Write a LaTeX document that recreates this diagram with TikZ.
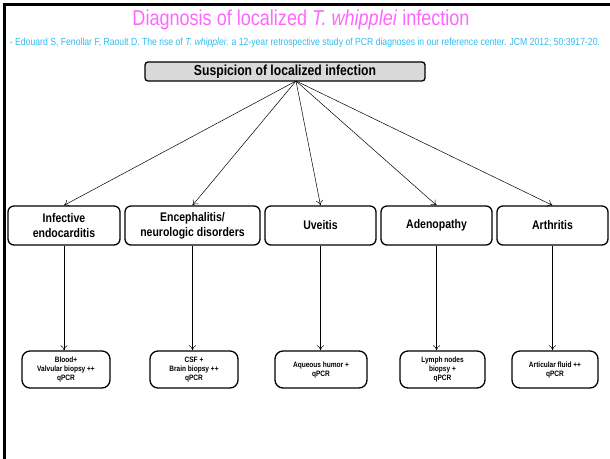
\documentclass[tikz,border=0pt]{standalone}
\usepackage{fontspec}
\setmainfont{Liberation Sans}[FakeStretch=0.84]
\usetikzlibrary{arrows.meta}
\definecolor{titlemag}{HTML}{FF66FF}
\definecolor{refblue}{HTML}{33BBEE}
\definecolor{boxgray}{HTML}{D9D9D9}
\begin{document}
\begin{tikzpicture}[x=1bp,y=-1bp,
  rowbox/.style={draw=black,line width=1.3bp,rounded corners=6bp,minimum height=39bp,inner sep=1bp,align=center,font=\fontsize{12.5bp}{15bp}\selectfont\bfseries},
  endbox/.style={draw=black,line width=1.3bp,rounded corners=8bp,minimum height=37bp,inner sep=1bp,align=center,font=\fontsize{7.8bp}{9bp}\selectfont\bfseries},
  conn/.style={line width=0.5bp,-{To[length=5bp,width=7bp]}}]
\useasboundingbox (0,0) rectangle (610,459);
\draw[line width=3bp] (4.5,459) -- (4.5,4.5) -- (610,4.5);
\node[text=titlemag,font=\fontsize{21.5bp}{23bp}\selectfont] (title) at (301,20) {Diagnosis of localized \textit{T. whipplei} infection};
\node[text=refblue,inner sep=0pt] (ref) at (305,43) {\resizebox{590bp}{!}{\fontsize{8bp}{9bp}\selectfont - Edouard S, Fenollar F, Raoult D. The rise of \textit{T. whipplei}: a 12-year retrospective study of PCR diagnoses in our reference center. JCM 2012; 50:3917-20.}};
\node[draw=black,fill=boxgray,line width=1.3bp,rounded corners=3bp,minimum width=280bp,minimum height=19bp,inner sep=0pt,font=\fontsize{14.5bp}{16bp}\selectfont\bfseries] (top) at (285,71.5) {Suspicion of localized infection};
\coordinate (c) at (296,81);
\node[rowbox,minimum width=112bp] (r1) at (64,225.5) {Infective\\endocarditis};
\node[rowbox,minimum width=135bp] (r2) at (192.5,225.5) {Encephalitis/\\neurologic disorders};
\node[rowbox,minimum width=111bp] (r3) at (320.5,225.5) {Uveitis};
\node[rowbox,minimum width=111bp] (r4) at (436.5,225.5) {Adenopathy};
\node[rowbox,minimum width=111bp] (r5) at (552.5,225.5) {Arthritis};
\node[endbox,minimum width=88bp] (b1) at (66,369.5) {Blood+\\Valvular biopsy ++\\qPCR};
\node[endbox,minimum width=88bp] (b2) at (194,369.5) {CSF +\\Brain biopsy ++\\qPCR};
\node[endbox,minimum width=92bp] (b3) at (321,369.5) {Aqueous humor +\\qPCR};
\node[endbox,minimum width=85bp] (b4) at (442.5,369.5) {Lymph nodes\\biopsy +\\qPCR};
\node[endbox,minimum width=86bp] (b5) at (555,369.5) {Articular fluid ++\\qPCR};
\foreach \i in {1,...,5} {
  \draw[conn] (c) -- (r\i.north);
  \draw[conn] (r\i.south) -- (r\i.south |- b\i.north);
}
\end{tikzpicture}
\end{document}
